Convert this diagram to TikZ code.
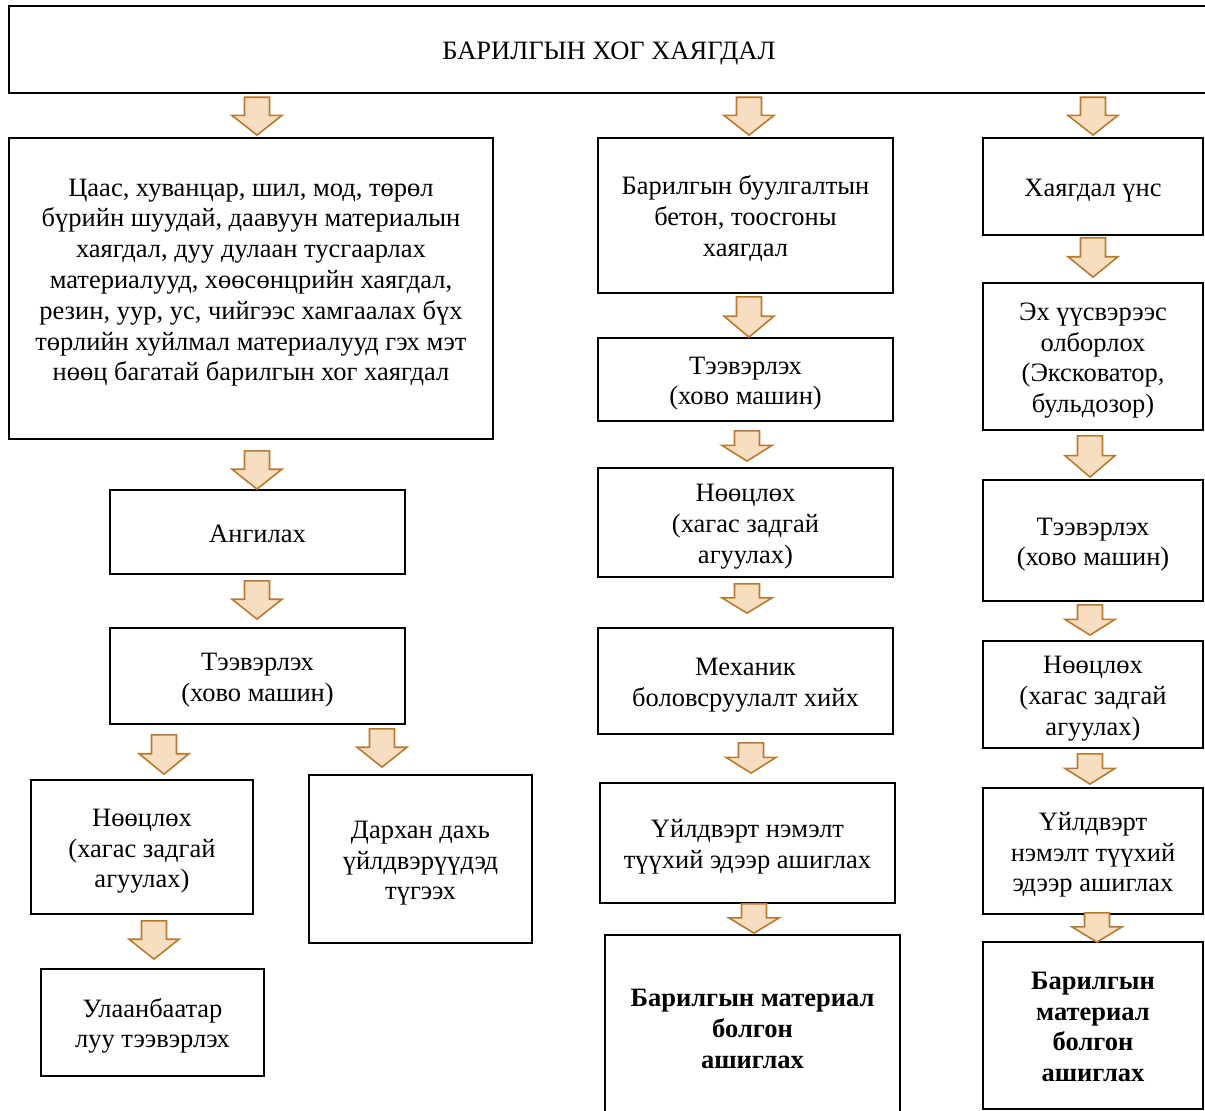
\documentclass[tikz,border=0pt]{standalone}
\usepackage{fontspec}
\setmainfont{Liberation Serif}
\usepackage{tikz}
\usetikzlibrary{calc}

\definecolor{arrfill}{RGB}{248,222,192}
\definecolor{arrdraw}{RGB}{186,122,46}

% block arrow between two boxes: x, from, to, top gap, tip gap
\newcommand{\blockarr}[5]{%
  \path[barrow] let \p1=(#2.south), \p2=(#3.north),
      \n1={\y1-#4}, \n2={\y2+#5}, \n3={0.52*\n1+0.48*\n2} in
    (#1-12.5,\n1) -- (#1+12.5,\n1) -- (#1+12.5,\n3) -- (#1+25,\n3)
    -- (#1,\n2) -- (#1-25,\n3) -- (#1-12.5,\n3) -- cycle;}

\begin{document}
\begin{tikzpicture}[x=1pt, y=1pt,
    nlines/.style={execute at begin node={\rule{0pt}{\dimexpr 28pt+30.8pt*(#1-1)\relax}}},
    box/.style={draw, line width=1.8pt, align=center, inner sep=0pt,
                font=\fontsize{26.5}{30.8}\selectfont, nlines=1,
                execute at end node={\rule[-8pt]{0pt}{8pt}}},
    boldbox/.style={box, font=\fontsize{26.5}{30.8}\selectfont\bfseries},
    barrow/.style={draw=arrdraw, fill=arrfill, line width=1.6pt, line join=miter},
  ]
    \useasboundingbox (0,0) rectangle (1205,-1111);

    % ---- title ----
    \node[box, line width=2.5pt, minimum width=1200pt, minimum height=87pt] (title)
        at (609,-49.5) {БАРИЛГЫН ХОГ ХАЯГДАЛ};

    % ---- left column ----
    \node[box, nlines=7, minimum width=484pt, minimum height=301pt,
          execute at end node={\rule[-28pt]{0pt}{28pt}}] (c1a) at (251,-288.5)
        {Цаас, хуванцар, шил, мод, төрөл\\бүрийн шуудай, даавуун материалын\\хаягдал, дуу дулаан тусгаарлах\\материалууд, хөөсөнцрийн хаягдал,\\резин, уур, ус, чийгээс хамгаалах бүх\\төрлийн хуйлмал материалууд гэх мэт\\нөөц багатай барилгын хог хаягдал};
    \node[box, minimum width=295pt, minimum height=84pt] (c1b) at (257.5,-532) {Ангилах};
    \node[box, nlines=2, minimum width=295pt, minimum height=96pt] (c1c) at (257.5,-676)
        {Тээвэрлэх\\(хово машин)};
    \node[box, nlines=3, minimum width=222pt, minimum height=134pt] (c1d) at (142,-847)
        {Нөөцлөх\\(хагас задгай\\агуулах)};
    \node[box, nlines=3, minimum width=223pt, minimum height=168pt] (c1e) at (420.5,-859)
        {Дархан дахь\\үйлдвэрүүдэд\\түгээх};
    \node[box, nlines=2, minimum width=223pt, minimum height=107pt] (c1f) at (152.5,-1022.5)
        {Улаанбаатар\\луу тээвэрлэх};

    % ---- middle column ----
    \node[box, nlines=3, minimum width=295pt, minimum height=155pt] (c2a) at (745.5,-215.5)
        {Барилгын буулгалтын\\бетон, тоосгоны\\хаягдал};
    \node[box, nlines=2, minimum width=295pt, minimum height=83pt] (c2b) at (745.5,-379.5)
        {Тээвэрлэх\\(хово машин)};
    \node[box, nlines=3, minimum width=295pt, minimum height=109pt] (c2c) at (745.5,-522.5)
        {Нөөцлөх\\(хагас задгай\\агуулах)};
    \node[box, nlines=2, minimum width=295pt, minimum height=106pt] (c2d) at (745.5,-681)
        {Механик\\боловсруулалт хийх};
    \node[box, nlines=2, minimum width=295pt, minimum height=120pt] (c2e) at (747.5,-843)
        {Үйлдвэрт нэмэлт\\түүхий эдээр ашиглах};
    \node[boldbox, nlines=3, minimum width=295pt, minimum height=185pt] (c2f) at (752.5,-1027.5)
        {Барилгын материал\\болгон\\ашиглах};

    % ---- right column ----
    \node[box, minimum width=220pt, minimum height=97pt] (c3a) at (1093,-186.5) {Хаягдал үнс};
    \node[box, nlines=4, minimum width=220pt, minimum height=147pt] (c3b) at (1093,-356.5)
        {Эх үүсвэрээс\\олборлох\\(Эксковатор,\\бульдозор)};
    \node[box, nlines=2, minimum width=220pt, minimum height=121pt] (c3c) at (1093,-540.5)
        {Тээвэрлэх\\(хово машин)};
    \node[box, nlines=3, minimum width=220pt, minimum height=107pt] (c3d) at (1093,-694.5)
        {Нөөцлөх\\(хагас задгай\\агуулах)};
    \node[box, nlines=3, minimum width=220pt, minimum height=126pt] (c3e) at (1093,-851)
        {Үйлдвэрт\\нэмэлт түүхий\\эдээр ашиглах};
    \node[boldbox, nlines=4, minimum width=220pt, minimum height=167pt] (c3f) at (1093,-1025.5)
        {Барилгын\\материал\\болгон\\ашиглах};

    % ---- arrows ----
    \blockarr{257}{title}{c1a}{3}{2}
    \blockarr{257}{c1a}{c1b}{11}{0}
    \blockarr{257}{c1b}{c1c}{6}{8}
    \blockarr{164}{c1c}{c1d}{10}{5}
    \blockarr{382}{c1c}{c1e}{4}{7}
    \blockarr{154}{c1d}{c1f}{6}{9}

    \blockarr{749}{title}{c2a}{3}{2}
    \blockarr{749}{c2a}{c2b}{3}{0}
    \blockarr{747}{c2b}{c2c}{9}{6}
    \blockarr{747}{c2c}{c2d}{6}{14}
    \blockarr{751}{c2d}{c2e}{8}{9}
    \blockarr{754}{c2e}{c2f}{0}{1}

    \blockarr{1093}{title}{c3a}{3}{2}
    \blockarr{1093}{c3a}{c3b}{2}{5}
    \blockarr{1090}{c3b}{c3c}{5}{2}
    \blockarr{1090}{c3c}{c3d}{3}{5}
    \blockarr{1090}{c3d}{c3e}{5}{3}
    \blockarr{1097}{c3e}{c3f}{-2}{-1}
  \end{tikzpicture}
\end{document}
